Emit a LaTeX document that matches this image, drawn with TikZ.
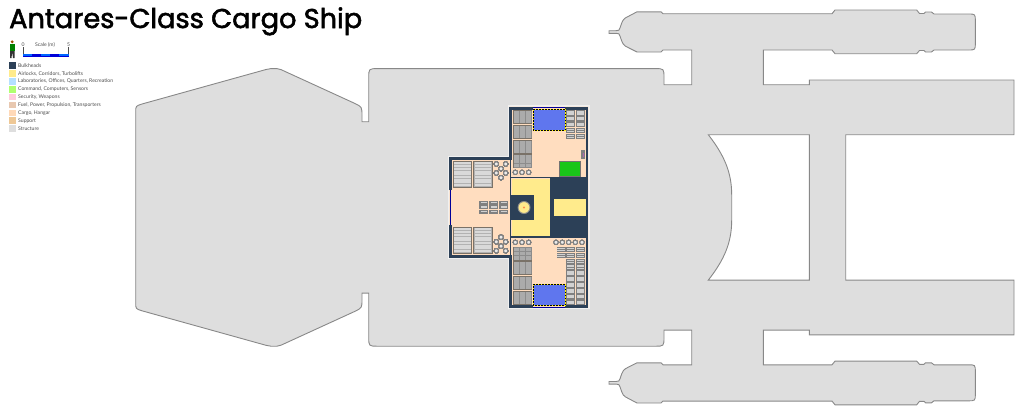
\documentclass[tikz,border=0pt]{standalone}
\usepackage{fontspec}
\newfontfamily\titlefont[UprightFeatures={FakeBold=2}]{Poppins}
\newfontfamily\legendfont{Lato}
\definecolor{hullgrey}{HTML}{DEDEDE}
\definecolor{hullline}{HTML}{888888}
\definecolor{wallblue}{HTML}{2C4057}
\definecolor{corridor}{HTML}{FFEB8C}
\definecolor{cargofloor}{HTML}{FFDDBF}
\definecolor{crateline}{HTML}{7A7268}
\definecolor{cratecell}{HTML}{ABABAB}
\definecolor{padblue}{HTML}{5F76EE}
\tikzset{
  hull/.style={fill=hullgrey, draw=hullline, line width=0.9pt, even odd rule},
  wall/.style={draw=wallblue, line width=2.8pt},
  thinwall/.style={draw=wallblue, line width=1.4pt},
  doorline/.style={draw=blue!60!black, line width=0.8pt},
  legendtext/.style={anchor=west, inner sep=0pt, font=\legendfont\fontsize{5.1}{6}\selectfont, text=black!70},
  swatch/.style={minimum width=6.6pt, minimum height=6.6pt, inner sep=0pt}
}
\newcommand{\cratebox}[2]{
  \fill[crateline] (#1,#2) rectangle ++(19.6,14);
  \fill[black!45] (#1+0.8,#2+0.8) rectangle ++(18,12.4);
  \foreach \cx in {0,1,2}
    \foreach \cy in {0,1,2}
      \fill[cratecell] (#1+1.1+\cx*6,#2+1.1+\cy*4.05) rectangle ++(5.4,3.7);
}
\newcommand{\stackbox}[2]{
  \fill[black!50] (#1,#2) rectangle ++(9.3,5.6);
  \fill[white!82!black] (#1+0.9,#2+1) rectangle ++(7.5,1.7);
  \fill[white!82!black] (#1+0.9,#2+3.1) rectangle ++(7.5,1.4);
}
\newcommand{\ringbox}[2]{
  \draw[black!50, fill=white!92!black, line width=0.9pt] (#1,#2) circle (2.1);
}
\newcommand{\bigbox}[2]{
  \fill[crateline] (#1,#2) rectangle ++(19.6,27.2);
  \fill[black!30] (#1+0.9,#2+0.9) rectangle ++(17.8,25.4);
  \foreach \cy in {0,...,8}
    \fill[black!15] (#1+1.4,#2+1.4+\cy*2.72) rectangle ++(16.8,2);
}
\begin{document}
\begin{tikzpicture}[x=1pt, y=-1pt]
  \useasboundingbox (0,0) rectangle (1024,416);
  % Hull:
  \path[hull] (135.7,112) .. controls (135.7,106) .. (142,104) -- (266,69.5) .. controls (268,68.6) .. (271,68.6) -- (277,68.6) .. controls (279,68.6) .. (281,69.6) -- (355,103.5) .. controls (362,107) .. (362,116) -- (362,121.7) -- (368.7,121.7) -- (368.7,78) .. controls (368.7,68.6) .. (378,68.6) -- (655,68.6) .. controls (664,68.6) .. (664,78) -- (664,84.7) -- (691.7,84.7) -- (691.7,50) -- (663,50) -- (661,52) -- (637,52) -- (629,48) .. controls (623,45) .. (620,36) .. controls (619,33.5) .. (616,33.3) -- (609,33.3) -- (609,30.7) -- (616,30.7) .. controls (619,30.5) .. (620,28) .. controls (623,19) .. (629,16) -- (637,11.8) -- (661,11.8) -- (663,13.7) -- (832,13.7) -- (835,10) -- (916.7,10) -- (919.5,13.5) -- (924,13.5) -- (925.5,12) -- (931.5,12) -- (934,14) -- (968,14) .. controls (975.3,14) .. (975.3,21) -- (975.3,43) .. controls (975.3,50) .. (968,50) -- (934,50) -- (931.5,52) -- (925.5,52) -- (924,50.5) -- (919.5,50.5) -- (916.7,53.7) -- (835,53.7) -- (832,50) -- (763.3,50) -- (763.3,84.7) -- (809.3,84.7) -- (809.3,80) -- (1014,80) -- (1014,134.7) -- (845.7,134.7) -- (845.7,280.1) -- (1014,280.1) -- (1014,334.8) -- (809.3,334.8) -- (809.3,330.1) -- (763.3,330.1) -- (763.3,364.8) -- (832,364.8) -- (835,361.1) -- (916.7,361.1) -- (919.5,364.3) -- (924,364.3) -- (925.5,362.8) -- (931.5,362.8) -- (934,364.8) -- (968,364.8) .. controls (975.3,364.8) .. (975.3,371.8) -- (975.3,393.8) .. controls (975.3,400.8) .. (968,400.8) -- (934,400.8) -- (931.5,402.8) -- (925.5,402.8) -- (924,401.3) -- (919.5,401.3) -- (916.7,404.8) -- (835,404.8) -- (832,401.1) -- (663,401.1) -- (661,403) -- (637,403) -- (629,398.8) .. controls (623,395.8) .. (620,386.8) .. controls (619,384.3) .. (616,384.1) -- (609,384.1) -- (609,381.5) -- (616,381.5) .. controls (619,381.3) .. (620,378.8) .. controls (623,369.8) .. (629,366.8) -- (637,362.8) -- (661,362.8) -- (663,364.8) -- (691.7,364.8) -- (691.7,330.1) -- (664,330.1) -- (664,336.8) .. controls (664,346.2) .. (655,346.2) -- (378,346.2) .. controls (368.7,346.2) .. (368.7,336.8) -- (368.7,293.1) -- (362,293.1) -- (362,298.8) .. controls (362,307.8) .. (355,311.3) -- (281,345.2) .. controls (279,346.2) .. (277,346.2) -- (271,346.2) .. controls (268,346.2) .. (266,345.3) -- (142,310.8) .. controls (135.7,308.8) .. (135.7,302.8) -- cycle
    (708.3,134.7) -- (809.3,134.7) -- (809.3,280.1) -- (708.3,280.1) .. controls (724,260) and (731.7,243) .. (731.7,220) -- (731.7,195) .. controls (731.7,172) and (724,155) .. (708.3,134.7) -- cycle;
  % Deck floor:
  \draw[white!55!hullgrey, line width=3pt, fill=cargofloor] (509,106.7) -- (588.3,106.7) -- (588.3,307.5) -- (509,307.5) -- (509,257.5) -- (449.3,257.5) -- (449.3,157.3) -- (509,157.3) -- cycle;
  \fill[cargofloor] (509,106.7) -- (588.3,106.7) -- (588.3,307.5) -- (509,307.5) -- (509,257.5) -- (449.3,257.5) -- (449.3,157.3) -- (509,157.3) -- cycle;
  % Core:
  \fill[wallblue] (550,177) rectangle (588,237.5);
  \fill[corridor] (511.5,179.3) rectangle (550,236);
  \fill[wallblue] (510,195) rectangle (534.3,220);
  \fill[corridor] (554,199.3) rectangle (586,215.7);
  \draw[black!45, fill=corridor, line width=0.9pt] (524,207.5) circle (6);
  \fill[orange!70!red!70] (524,207.5) circle (1.1);
  % Walls:
  \draw[wall] (450.7,190) -- (450.7,158.7) -- (510.4,158.7) -- (510.4,108.1) -- (533,108.1);
  \draw[wall] (450.7,225) -- (450.7,256.1) -- (510.4,256.1) -- (510.4,306.1) -- (533,306.1);
  \draw[wall] (565,108.1) -- (586.9,108.1) -- (586.9,306.1) -- (565,306.1);
  \draw[thinwall] (510.4,159) -- (510.4,255.8);
  \draw[thinwall] (510,177.7) -- (550,177.7);
  \draw[thinwall] (510,237.1) -- (550,237.1);
  \draw[thinwall] (550.5,177.5) -- (550.5,237.3);
  \draw[doorline] (450.2,190) -- (450.2,225);
  \draw[doorline] (533,107.2) -- (565,107.2);
  \draw[doorline] (533,307) -- (565,307);
  % Cargo pads:
  \foreach \padtop in {109.5,284.5}{
    \fill[padblue] (533.5,\padtop) rectangle ++(31.5,20.8);
    \draw[black, line width=1pt] (533.5,\padtop) rectangle ++(31.5,20.8);
    \draw[yellow, line width=1pt, dash pattern=on 1.5pt off 1.5pt] (533.5,\padtop) rectangle ++(31.5,20.8);
  }
  % Crates:
  \foreach \cratey in {110,124.7,139.7,154.3,246.6,261.2,276.2,290.8}
    \cratebox{512.7}{\cratey}
  \foreach \bigy in {161,227}{
    \bigbox{452.7}{\bigy}
    \bigbox{473.2}{\bigy}
  }
  % Stacks:
  \foreach \stacky in {110,115.9,121.8,127.7,133.6}{
    \stackbox{566}{\stacky}
    \stackbox{576}{\stacky}
  }
  \foreach \stacky in {246.7,252.6,258.5,264.4,270.3,276.2,282.1,288,293.9,299.8}{
    \stackbox{566}{\stacky}
    \stackbox{576}{\stacky}
  }
  \stackbox{556.5}{246.7}
  \stackbox{556.5}{252.6}
  \foreach \drumx in {479.3,489.3,499.3}
    \foreach \drumy in {200.5,205,209.5}{
      \fill[black!50] (\drumx,\drumy) rectangle ++(9,4.2);
      \fill[white!82!black] (\drumx+1.5,\drumy+1.3) rectangle ++(6,1.6);
    }
  % Rings:
  \foreach \ringx in {515.3,522,528.7}{
    \ringbox{\ringx}{172.3}
    \ringbox{\ringx}{242.3}
  }
  \foreach \ringx in {556,562.3,568.7,575.3,582}
    \ringbox{\ringx}{242.3}
  \foreach \ringx/\ringy in {496.3/164,505.7/164,501/168.7,496.3/173,505.7/173,501/177.7,501/237.1,496.3/241.8,505.7/241.8,501/246.1,496.3/250.8,505.7/250.8}
    \ringbox{\ringx}{\ringy}
  % Bridge:
  \draw[black!55, fill=green!75!black!90, line width=0.8pt] (559.5,161) rectangle (580,176.5);
  \fill[black!50] (581.3,150) rectangle (585.3,158.7);
  \fill[violet!60] (582.6,153) rectangle (584,157);
  % Title:
  \node[anchor=base west, inner sep=0pt, font=\titlefont\fontsize{27.2}{30}\selectfont] (shiptitle) at (9,28) {Antares-Class Cargo Ship};
  % Crewman:
  \fill[black!80] (10,50) -- (14.5,50) -- (14.5,58) -- (13,58) -- (12.2,52) -- (11.5,58) -- (10,58) -- cycle;
  \fill[green!50!black] (9.8,43.5) rectangle (14.7,50.5);
  \fill[orange!60!black] (12.2,41.8) circle (1.6);
  % Scale:
  \draw[black!70, line width=0.4pt] (22.7,47) -- (22.7,57);
  \draw[black!70, line width=0.4pt] (68.5,47) -- (68.5,57);
  \fill[blue!85!black] (22.7,54.3) rectangle (68.5,57);
  \foreach \barx in {0,2,4}
    \fill[blue!60!cyan] (22.7+\barx*9.16,54.3) rectangle ++(9.16,1.2);
  \node[inner sep=0pt, font=\legendfont\fontsize{5.1}{6}\selectfont, text=black!70] (scalezero) at (23,44.5) {0};
  \node[inner sep=0pt, font=\legendfont\fontsize{5.1}{6}\selectfont, text=black!70] (scalefive) at (68.7,44.5) {5};
  \node[inner sep=0pt, font=\legendfont\fontsize{5.1}{6}\selectfont, text=black!70] (scaletext) at (45,45) {Scale (m)};
  % Legend:
  \foreach \i/\y/\shade/\legendlabel in {
    1/65.7/2C4057/{Bulkheads},
    2/73.5/FFEB8C/{Airlocks, Corridors, Turbolifts},
    3/81.4/B4E0FF/{Laboratories, Offices, Quarters, Recreation},
    4/89.2/B0FF70/{Command, Computers, Sensors},
    5/97/FFCCDD/{Security, Weapons},
    6/105/E8C8B0/{Fuel, Power, Propulsion, Transporters},
    7/113/FFD9B8/{Cargo, Hangar},
    8/120.7/EEC896/{Support},
    9/128.6/DEDEDE/{Structure}}{
    \definecolor{swatchfill}{HTML}{\shade}
    \node[swatch, fill=swatchfill] (swatch\i) at (12.4,\y) {};
    \node[legendtext] (legend\i) at (18,\y) {\legendlabel};
  }
\end{tikzpicture}
\end{document}
